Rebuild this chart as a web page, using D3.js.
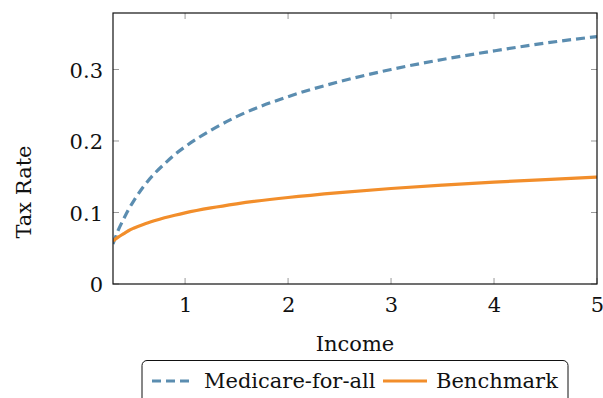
<!DOCTYPE html>
<html>
<head>
<meta charset="utf-8">
<script src="https://cdn.jsdelivr.net/npm/d3@7"></script>
<style>
  body { margin: 0; background: #fff; }
  svg text { font-family: "DejaVu Serif", "Liberation Serif", serif; fill: #111; }
</style>
</head>
<body>
<div id="container"></div>
<script>
// chart size
var width = 603;
var height = 398;
var margin = {top: 13, right: 6, bottom: 114, left: 113};
var fontSize = "21px";

// ------------------------- DATA -------------------------
var income    = [0.3,   0.35,  0.4,   0.45,  0.5,   0.6,   0.7,   0.8,   0.9,   1,     1.25,  1.5,   2,     2.5,   3,     3.5,   4,     4.5,   5];
var medicare  = [0.056, 0.075, 0.090, 0.104, 0.116, 0.137, 0.154, 0.168, 0.181, 0.192, 0.215, 0.234, 0.262, 0.283, 0.300, 0.314, 0.326, 0.337, 0.346];
var benchmark = [0.060, 0.0655, 0.070, 0.0745, 0.078, 0.0837, 0.0884, 0.0926, 0.0962, 0.0995, 0.1064, 0.1121, 0.121, 0.1279, 0.1336, 0.1383, 0.1425, 0.1461, 0.1494];
var xTicks = [1, 2, 3, 4, 5];
var yTicks = [0, 0.1, 0.2, 0.3];
var seriesNames = ["Medicare-for-all", "Benchmark"];

var series = [
  {name: seriesNames[0], values: medicare, color: "#5b8db0", dash: "9,5"},
  {name: seriesNames[1], values: benchmark, color: "#f28e2b", dash: null}
];

var svg = d3.select("#container").append("svg")
    .attr("width", width)
    .attr("height", height);

var w = width - margin.left - margin.right;
var h = height - margin.top - margin.bottom;

var g = svg.append("g")
    .attr("transform", "translate(" + margin.left + "," + margin.top + ")");

// ------------------------- SCALES -------------------------
var x = d3.scaleLinear().domain([0.3, 5]).range([0, w]);
var y = d3.scaleLinear().domain([0, 0.379]).range([h, 0]);

// ------------------------- AXES -------------------------
var tickColor = "#999";

var xAxis = g.append("g")
    .attr("transform", "translate(0," + h + ")")
    .call(d3.axisBottom(x).tickValues(xTicks).tickSize(0).tickFormat(d3.format("d")));
xAxis.select(".domain").remove();
xAxis.selectAll("text").style("font-size", fontSize).attr("y", 27.5).attr("dy", 0);

var yAxis = g.append("g")
    .call(d3.axisLeft(y).tickValues(yTicks).tickSize(0).tickPadding(10)
      .tickFormat(function(d) { return d === 0 ? "0" : d3.format(".1f")(d); }));
yAxis.select(".domain").remove();
yAxis.selectAll("text").style("font-size", fontSize).attr("dy", "0.36em");

// inward ticks on all four sides
g.selectAll(".xtb").data(xTicks).enter().append("line")
    .attr("x1", d => x(d)).attr("x2", d => x(d))
    .attr("y1", h).attr("y2", h - 6)
    .attr("stroke", tickColor);
g.selectAll(".xtt").data(xTicks).enter().append("line")
    .attr("x1", d => x(d)).attr("x2", d => x(d))
    .attr("y1", 0).attr("y2", 6)
    .attr("stroke", tickColor);
g.selectAll(".ytl").data(yTicks).enter().append("line")
    .attr("x1", 0).attr("x2", 6)
    .attr("y1", d => y(d)).attr("y2", d => y(d))
    .attr("stroke", tickColor);
g.selectAll(".ytr").data(yTicks).enter().append("line")
    .attr("x1", w - 6).attr("x2", w)
    .attr("y1", d => y(d)).attr("y2", d => y(d))
    .attr("stroke", tickColor);

// ------------------------- LINES -------------------------
var line = d3.line()
    .x(function(d, i) { return x(income[i]); })
    .y(function(d) { return y(d); })
    .curve(d3.curveMonotoneX);

g.append("clipPath").attr("id", "clip")
  .append("rect").attr("width", w).attr("height", h);

g.selectAll(".series").data(series).enter().append("path")
    .attr("clip-path", "url(#clip)")
    .attr("d", d => line(d.values))
    .attr("fill", "none")
    .attr("stroke", d => d.color)
    .attr("stroke-width", 3.2)
    .attr("stroke-dasharray", d => d.dash);

// frame
g.append("rect")
    .attr("width", w).attr("height", h)
    .attr("fill", "none")
    .attr("stroke", "#111")
    .attr("stroke-width", 1.2);

// ------------------------- LABELS -------------------------
svg.append("text")
    .attr("x", margin.left + w / 2)
    .attr("y", 351)
    .attr("text-anchor", "middle")
    .style("font-size", fontSize)
    .text("Income");

svg.append("text")
    .attr("transform", "translate(30.5,192) rotate(-90)")
    .attr("text-anchor", "middle")
    .style("font-size", fontSize)
    .text("Tax Rate");

// ------------------------- LEGEND -------------------------
var legend = svg.append("g");
legend.append("rect")
    .attr("x", 142).attr("y", 360.5)
    .attr("width", 426).attr("height", 50)
    .attr("rx", 5)
    .attr("fill", "#fff")
    .attr("stroke", "#111")
    .attr("stroke-width", 1);

var legendItems = [
  {x1: 152, x2: 192, tx: 204},
  {x1: 383, x2: 427, tx: 436}
];
series.forEach(function(s, i) {
  var it = legendItems[i];
  legend.append("line")
      .attr("x1", it.x1).attr("x2", it.x2)
      .attr("y1", 381).attr("y2", 381)
      .attr("stroke", s.color)
      .attr("stroke-width", 3.2)
      .attr("stroke-dasharray", s.dash);
  legend.append("text")
      .attr("x", it.tx).attr("y", 388)
      .style("font-size", fontSize)
      .text(s.name);
});
</script>
</body>
</html>
